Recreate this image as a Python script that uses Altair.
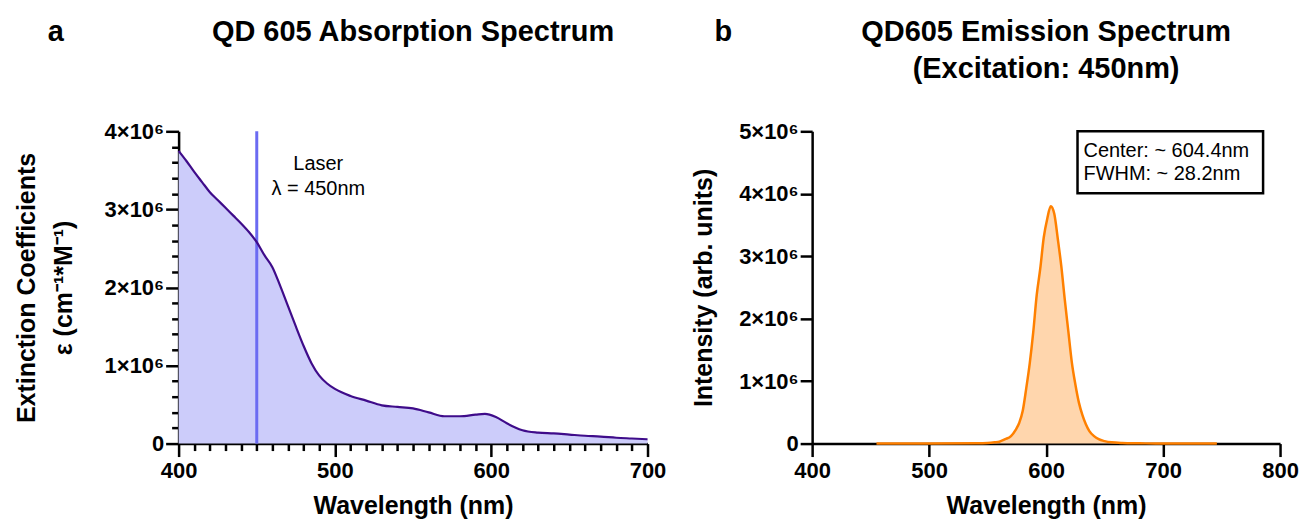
import altair as alt
import pandas as pd

# ---------------- data ----------------
abs_wavelength = [400, 405, 410, 415, 420, 425, 430, 435, 440, 445, 450, 455, 460, 465,
                  470, 475, 480, 485, 490, 495, 500, 510, 520, 530, 540, 550, 560, 570,
                  580, 590, 596, 603, 610, 615, 620, 630, 640, 650, 660, 670, 680, 690, 700]
abs_coeff = [3.75e6, 3.62e6, 3.48e6, 3.35e6, 3.22e6, 3.12e6, 3.02e6, 2.92e6, 2.82e6, 2.71e6,
             2.58e6, 2.41e6, 2.26e6, 2.02e6, 1.76e6, 1.50e6, 1.25e6, 1.03e6, 0.87e6, 0.77e6,
             0.70e6, 0.61e6, 0.55e6, 0.49e6, 0.47e6, 0.45e6, 0.40e6, 0.35e6, 0.35e6, 0.37e6,
             0.38e6, 0.34e6, 0.26e6, 0.21e6, 0.17e6, 0.14e6, 0.13e6, 0.115e6, 0.10e6, 0.09e6,
             0.075e6, 0.065e6, 0.055e6]

em_wavelength = [455, 500, 540, 550, 556, 560, 565, 570, 574, 577, 580, 583, 586, 589, 592,
                 595, 598, 601, 604, 607, 610, 613, 616, 619, 622, 625, 628, 631, 634, 637,
                 641, 645, 650, 656, 665, 680, 700, 746]
em_intensity = [0, 0, 0.005e6, 0.01e6, 0.02e6, 0.03e6, 0.07e6, 0.12e6, 0.22e6, 0.33e6,
                0.52e6, 0.88e6, 1.28e6, 1.78e6, 2.38e6, 2.80e6, 3.30e6, 3.60e6, 3.80e6,
                3.68e6, 3.28e6, 2.84e6, 2.30e6, 1.80e6, 1.30e6, 0.95e6, 0.66e6, 0.46e6,
                0.31e6, 0.20e6, 0.12e6, 0.07e6, 0.04e6, 0.02e6, 0.01e6, 0.005e6, 0, 0]

laser_wavelength = [450]

abs_x_ticks = list(range(400, 701, 10))
abs_y_ticks = list(range(0, 4000001, 200000))
em_x_ticks = [400, 500, 600, 700, 800]
em_y_ticks = [0, 1000000, 2000000, 3000000, 4000000, 5000000]

# ---------------- styles ----------------
FONT = "Liberation Sans"
ABS_LINE = "#3f0c8a"
ABS_FILL = "#ccccfa"
LASER = "#6b6bf2"
EM_LINE = "#ff8000"
EM_FILL = "#ffd6ad"

abs_df = pd.DataFrame({"wl": abs_wavelength, "val": abs_coeff})
em_df = pd.DataFrame({"wl": em_wavelength, "val": em_intensity})
laser_df = pd.DataFrame({"wl": laser_wavelength})
one = alt.Data(values=[{}])

y_label_expr = ("datum.value % 1000000 !== 0 ? '' : (datum.value === 0 ? '0' : "
                "format(datum.value/1000000, 'd') + '×10⁶')")

common_axis = dict(domainColor="black", domainWidth=2.5, tickColor="black", tickWidth=2.5,
                   labelFont=FONT, labelFontSize=22, labelFontWeight="bold", labelColor="black",
                   titleFont=FONT, titleFontSize=25, titleFontWeight="bold", titleColor="black",
                   grid=False, labelFlush=False, labelOverlap=False, tickCount=200)

# ---------------- panel a ----------------
ax_x = alt.Axis(values=abs_x_ticks, title="Wavelength (nm)",
                labelExpr="datum.value % 100 === 0 ? datum.label : ''",
                tickSize={"condition": {"test": "datum.value % 100 === 0", "value": 13}, "value": 7},
                labelPadding=4, titlePadding=12, **common_axis)
ax_y = alt.Axis(values=abs_y_ticks, title=["Extinction Coefficients", "ε (cm⁻¹*M⁻¹)"],
                labelExpr=y_label_expr,
                tickSize={"condition": {"test": "datum.value % 1000000 === 0", "value": 13}, "value": 7},
                labelPadding=2, titlePadding=28, titleLineHeight=37, **common_axis)

xa = alt.X("wl:Q", scale=alt.Scale(domain=[400, 700], nice=False, zero=False), axis=ax_x)
ya = alt.Y("val:Q", scale=alt.Scale(domain=[0, 4000000], nice=False), axis=ax_y)

a_area = alt.Chart(abs_df).mark_area(color=ABS_FILL, interpolate="monotone").encode(x=xa, y=ya)
a_rule = alt.Chart(laser_df).mark_rule(color=LASER, strokeWidth=3).encode(x="wl:Q")
a_line = alt.Chart(abs_df).mark_line(color=ABS_LINE, strokeWidth=2.2, interpolate="monotone").encode(
    x="wl:Q", y="val:Q")

def txt(text, x, y, size=20, weight="normal", align="center"):
    return alt.Chart(one).mark_text(text=text, font=FONT, fontSize=size, fontWeight=weight,
                                    align=align, baseline="middle", color="black").encode(
        x=alt.value(x), y=alt.value(y))

a_laser1 = txt("Laser", 140, 33)
a_laser2 = txt("λ = 450nm", 140, 58)
a_head = txt("QD 605 Absorption Spectrum", 235, -100, 29, "bold")
a_tag = txt("a", -123, -100, 29, "bold")

panel_a = alt.layer(a_area, a_rule, a_line, a_laser1, a_laser2, a_head, a_tag).properties(
    width=470, height=313)

# ---------------- panel b ----------------
bx_x = alt.Axis(values=em_x_ticks, title="Wavelength (nm)", tickSize=13,
                labelPadding=4, titlePadding=12, **common_axis)
bx_y = alt.Axis(values=em_y_ticks, title="Intensity (arb. units)", labelExpr=y_label_expr,
                tickSize=12, labelPadding=2, titlePadding=22, **common_axis)

xb = alt.X("wl:Q", scale=alt.Scale(domain=[400, 800], nice=False, zero=False), axis=bx_x)
yb = alt.Y("val:Q", scale=alt.Scale(domain=[0, 5000000], nice=False), axis=bx_y)

b_area = alt.Chart(em_df).mark_area(color=EM_FILL, interpolate="monotone").encode(x=xb, y=yb)
b_line = alt.Chart(em_df).mark_line(color=EM_LINE, strokeWidth=2.5, interpolate="monotone").encode(
    x="wl:Q", y="val:Q")
b_box = alt.Chart(one).mark_rect(fill="white", stroke="black", strokeWidth=2.5).encode(
    x=alt.value(266), x2=alt.value(452), y=alt.value(0), y2=alt.value(62))
b_t1 = txt("Center: ~ 604.4nm", 272, 20, 20, "normal", "left")
b_t2 = txt("FWHM: ~ 28.2nm", 272, 43, 20, "normal", "left")
b_head1 = txt("QD605 Emission Spectrum", 234.5, -100, 29, "bold")
b_head2 = txt("(Excitation: 450nm)", 234.5, -62, 29, "bold")
b_tag = txt("b", -89, -100, 29, "bold")

panel_b = alt.layer(b_area, b_line, b_box, b_t1, b_t2, b_head1, b_head2, b_tag).properties(
    width=469, height=313)

chart = alt.hconcat(panel_a, panel_b, spacing=25).properties(
    padding={"left": 6, "top": 9, "right": 0, "bottom": 0}
).configure_view(stroke=None)

chart.save("out.html", embed_options={"renderer": "svg", "actions": False})
